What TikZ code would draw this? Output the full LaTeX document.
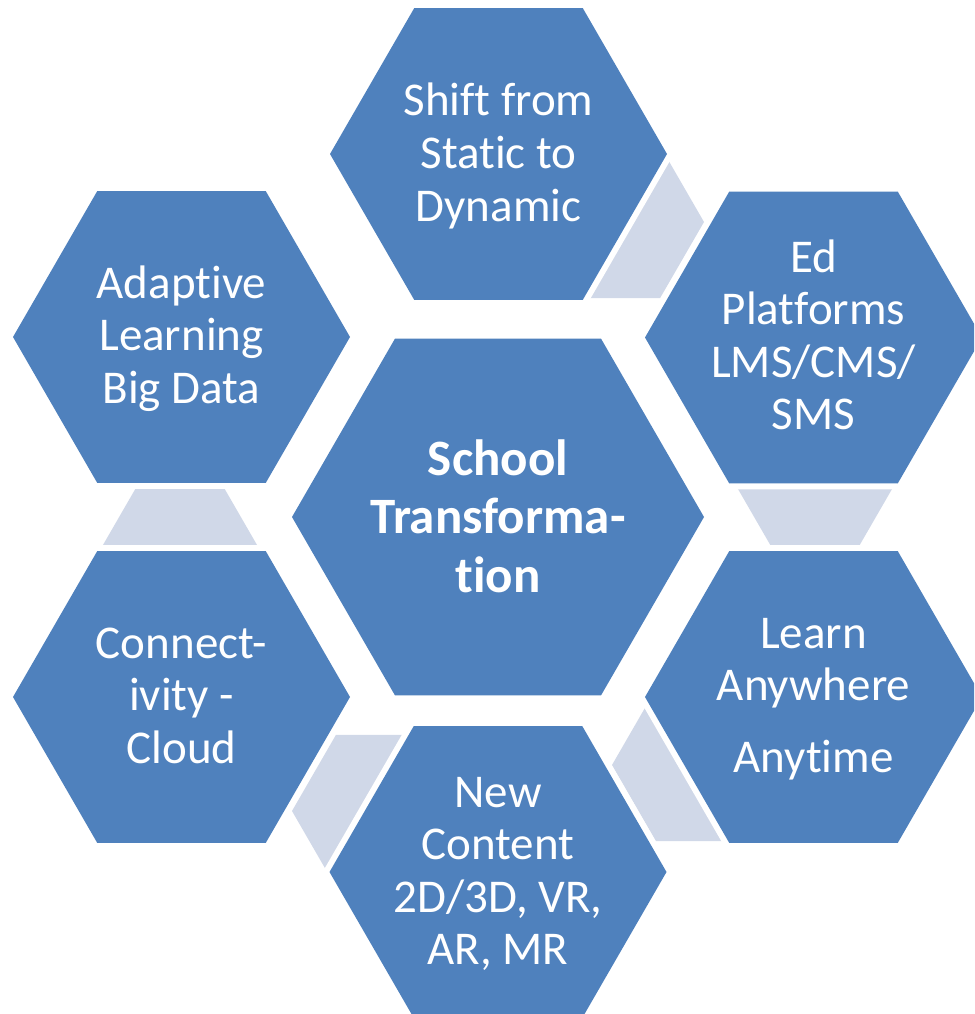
\documentclass[tikz,border=0pt]{standalone}
\usepackage{fontspec}
\setmainfont{Carlito}[Ligatures=NoCommon]
\definecolor{hexblue}{HTML}{4F81BD}
\definecolor{hexgray}{HTML}{D0D8E8}
\newcommand\hexlines[1]{\vtop{\halign{\hfil##\hfil\cr#1\crcr}}}
\newcommand\nolig{\kern0pt{}}
\newcommand\hexpath[4]{%
  \path[#1] (#2,#3) +(0:#4) -- +(60:#4) -- +(120:#4) -- +(180:#4) -- +(240:#4) -- +(300:#4) -- cycle;}
\tikzset{
  bighex/.style={fill=hexblue},
  halo/.style={fill=white},
  linkhex/.style={fill=hexgray},
  hexlabel/.style={text=white, inner sep=0pt, anchor=base, font=\fontsize{47}{52.5}\selectfont},
  centrelabel/.style={hexlabel, font=\fontsize{51}{58.5}\selectfont\bfseries},
}
\begin{document}
\begin{tikzpicture}[x=1pt,y=-1pt]
\useasboundingbox (0,0) rectangle (974,1014);
\clip (0,0) rectangle (974,1014);
\fill[white] (0,0) rectangle (974,1014);
% small connecting hexagons
\hexpath{linkhex}{616}{222}{88}
\hexpath{linkhex}{815}{470}{88}
\hexpath{linkhex}{700}{765}{88}
\hexpath{linkhex}{380}{811}{88}
\hexpath{linkhex}{180}{564}{88}
% white gaps around the big hexagons
\hexpath{halo}{498.5}{154}{175.4}
\hexpath{halo}{813.5}{337.5}{175.4}
\hexpath{halo}{813.5}{697}{175.4}
\hexpath{halo}{498}{872}{175.4}
\hexpath{halo}{181.5}{697}{175.4}
\hexpath{halo}{181.5}{337}{175.4}
% big hexagons
\hexpath{bighex}{498}{517}{206}
\hexpath{bighex}{498.5}{154}{168.5}
\hexpath{bighex}{813.5}{337.5}{168.5}
\hexpath{bighex}{813.5}{697}{168.5}
\hexpath{bighex}{498}{872}{168.5}
\hexpath{bighex}{181.5}{697}{168.5}
\hexpath{bighex}{181.5}{337}{168.5}
% labels
\node[centrelabel] (centre) at (498,475) {\hexlines{School\cr Transforma-\cr t\nolig ion}};
\node[hexlabel] (shift) at (498.5,116) {\hexlines{Shift from\cr Stat\nolig ic to\cr Dynamic}};
\node[hexlabel] (platforms) at (813.5,272) {\hexlines{Ed\cr Platforms\cr LMS/CMS/\cr SMS}};
\node[hexlabel] (learn) at (813.5,648) {\hexlines{Learn\cr Anywhere\cr\noalign{\vskip19.5pt} Anyt\nolig ime}};
\node[hexlabel] (content) at (498,807) {\hexlines{New\cr Content\cr 2D/3D, VR,\cr AR, MR}};
\node[hexlabel] (cloud) at (181.5,658) {\hexlines{Connect-\cr ivity -\cr Cloud}};
\node[hexlabel] (adaptive) at (181.5,298) {\hexlines{Adapt\nolig ive\cr Learning\cr Big Data}};
\end{tikzpicture}
\end{document}
